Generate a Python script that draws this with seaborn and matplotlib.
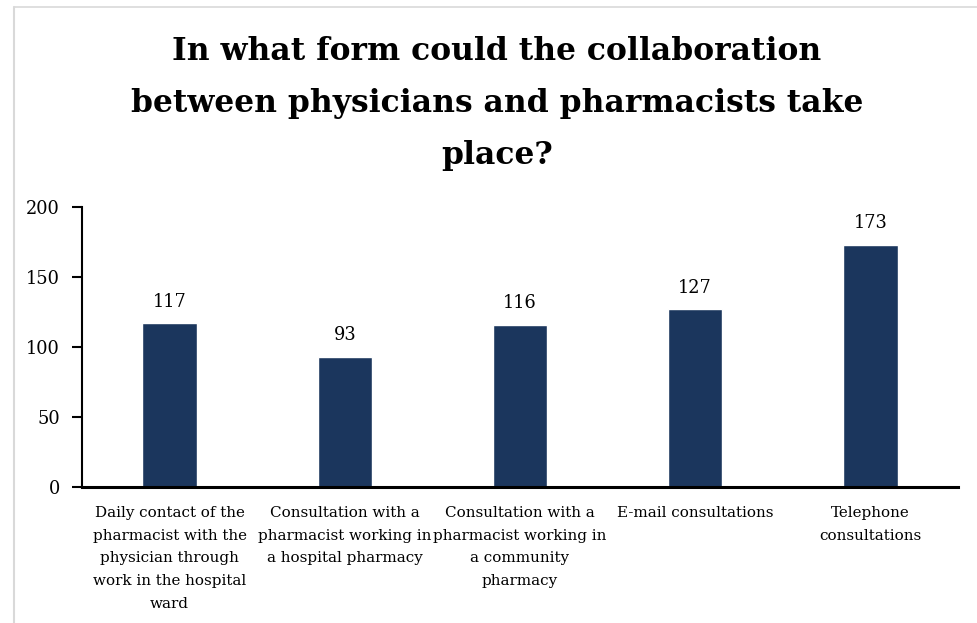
import matplotlib
matplotlib.use("Agg")
import matplotlib.pyplot as plt
import seaborn as sns
import pandas as pd
from matplotlib.lines import Line2D

categories = [
    "Daily contact of the\npharmacist with the\nphysician through\nwork in the hospital\nward",
    "Consultation with a\npharmacist working in\na hospital pharmacy",
    "Consultation with a\npharmacist working in\na community\npharmacy",
    "E-mail consultations",
    "Telephone\nconsultations",
]
values = [117, 93, 116, 127, 173]
yticks = [0, 50, 100, 150, 200]
title = "In what form could the collaboration\nbetween physicians and pharmacists take\nplace?"

sns.set_theme(style="white")
plt.rcParams["font.family"] = ["DejaVu Serif"]

W, H = 977, 623
fig = plt.figure(figsize=(W / 100, H / 100), dpi=100)
ax = fig.add_axes([82 / W, 1 - 487 / H, (958 - 82) / W, (487 - 207) / H])

df = pd.DataFrame({"cat": categories, "val": values})
sns.barplot(data=df, x="cat", y="val", color="#1b365d", width=0.31, ax=ax,
            saturation=1)

ax.set_ylim(0, 200)
ax.set_yticks(yticks)
ax.set_yticklabels([str(t) for t in yticks], fontsize=12.8, color="black")
ax.set_xlabel("")
ax.set_ylabel("")
ax.tick_params(axis="y", length=7, width=1.5, direction="out", pad=9, left=True, color="black")
ax.tick_params(axis="x", length=0, pad=13.5)
ax.set_xticks(range(len(categories)))
ax.set_xticklabels(categories, fontsize=10.9, color="black", linespacing=1.8,
                   va="top")

for s in ["top", "right"]:
    ax.spines[s].set_visible(False)
ax.spines["left"].set_color("black")
ax.spines["left"].set_linewidth(1.5)
ax.spines["bottom"].set_color("black")
ax.spines["bottom"].set_linewidth(2.2)

for c in ax.containers:
    ax.bar_label(c, labels=[str(v) for v in values], padding=9, fontsize=12.8, color="black")

fig.text(497 / W, 1 - 36 / H, title, ha="center", va="top", fontsize=22.6,
         fontweight="bold", linespacing=1.87, color="black")

# light gray frame lines (top and left)
fig.add_artist(Line2D([14 / W, 1], [1 - 7 / H, 1 - 7 / H], color="#d9d9d9", lw=1.2))
fig.add_artist(Line2D([14 / W, 14 / W], [0, 1 - 7 / H], color="#d9d9d9", lw=1.5))

fig.savefig("out.png", dpi=100, facecolor="white")
